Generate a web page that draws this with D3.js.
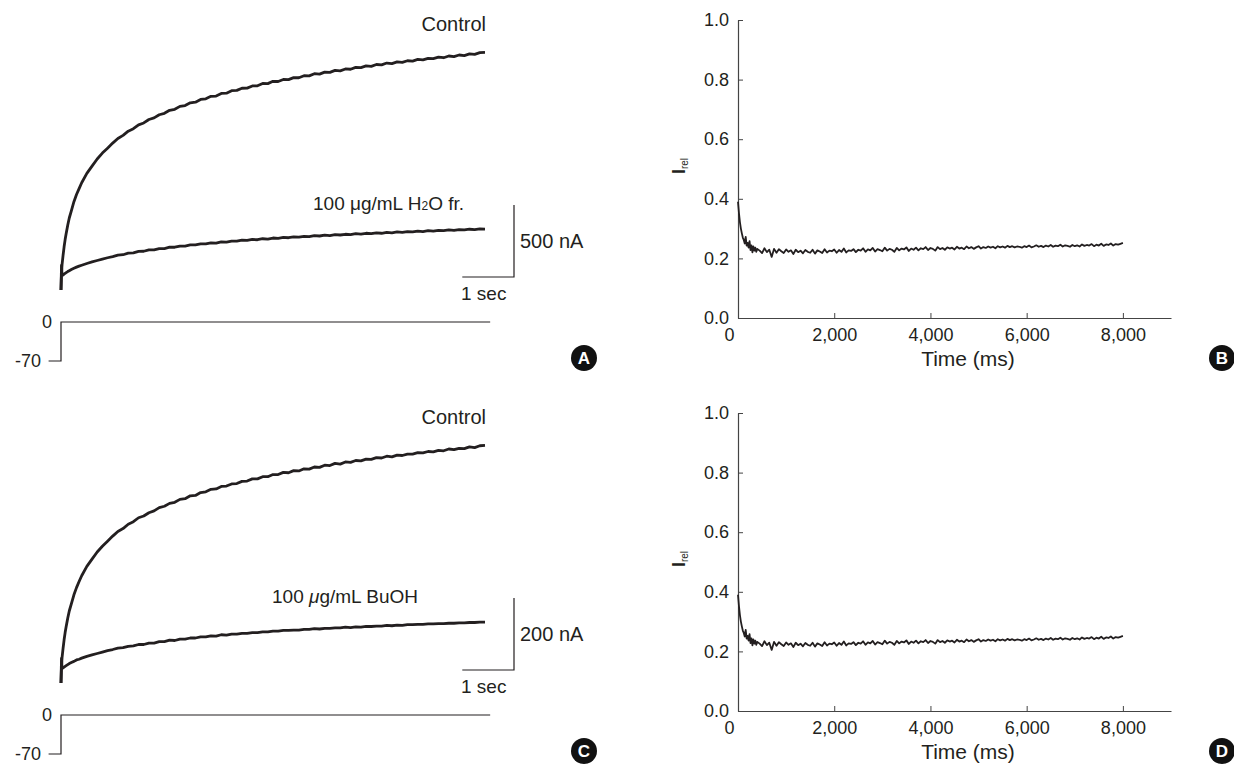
<!DOCTYPE html>
<html>
<head>
<meta charset="utf-8">
<script src="https://cdn.jsdelivr.net/npm/d3@7"></script>
<style>
  body { margin: 0; background: #fff; }
  svg { display: block; font-family: "Liberation Sans", Arial, Helvetica, sans-serif; }
</style>
</head>
<body>
<svg id="chart" width="1234" height="770"></svg>
<script>
// ─── Data ─────────────────────────────────────────────────────────────────────
// Oocyte current traces (A, C): sample times in seconds
const traceTimesEarly = [0, 0.01, 0.02, 0.04, 0.06, 0.08, 0.1, 0.13, 0.16, 0.2, 0.25, 0.3, 0.35, 0.4, 0.5, 0.6, 0.7, 0.8, 0.9, 1.0];
const traceTimes = traceTimesEarly.concat(d3.range(11, 83).map(d => d / 10)); // 1.1 … 8.2 s every 0.1 s

// Panel A, nA
const controlA = [0, 120, 175, 240, 300, 350, 392, 450, 500, 550, 613, 663, 704, 745, 810, 860, 910, 951, 985, 1020,
  1052, 1074, 1103, 1120, 1147, 1160, 1184, 1195, 1217, 1227,
  1248, 1255, 1275, 1281, 1300, 1304, 1323, 1328, 1345, 1347,
  1365, 1367, 1384, 1386, 1401, 1402, 1417, 1418, 1434, 1433,
  1449, 1448, 1462, 1461, 1475, 1474, 1488, 1487, 1502, 1499,
  1513, 1511, 1525, 1522, 1535, 1533, 1546, 1544, 1556, 1553,
  1566, 1563, 1576, 1572, 1584, 1581, 1592, 1590, 1601, 1598,
  1609, 1607, 1617, 1613, 1625, 1621, 1632, 1628, 1640, 1636, 1648, 1650];
const h2oA = [0, 170, 100, 104, 110, 116, 121, 128, 134, 142, 151, 159, 166, 172, 184, 195, 205, 215, 224, 232,
  242, 245, 256, 258, 268, 269, 278, 279, 288, 288,
  297, 297, 305, 305, 313, 313, 320, 320, 327, 326,
  334, 333, 340, 339, 346, 344, 351, 349, 356, 354,
  361, 359, 365, 363, 369, 367, 373, 371, 377, 375,
  381, 378, 384, 382, 387, 385, 391, 388, 394, 391,
  397, 394, 400, 397, 403, 400, 406, 403, 409, 406,
  412, 409, 414, 412, 417, 414, 419, 417, 422, 419, 424, 423];

// Panel C, nA
const controlC = [0, 48, 70, 96, 120, 140, 157, 180, 200, 220, 245, 265, 282, 298, 324, 344, 364, 380, 394, 408,
  421, 429, 441, 448, 459, 464, 473, 478, 487, 491,
  499, 502, 510, 512, 520, 521, 529, 531, 538, 539,
  546, 547, 553, 554, 560, 561, 567, 567, 573, 573,
  579, 579, 585, 584, 590, 589, 595, 594, 600, 599,
  605, 604, 610, 608, 614, 613, 618, 617, 622, 621,
  626, 625, 630, 628, 633, 632, 636, 636, 640, 639,
  643, 642, 646, 645, 650, 648, 652, 651, 656, 654, 659, 660];
const buohC = [0, 68, 40, 42, 44, 46, 48, 51, 54, 57, 60, 64, 66, 69, 74, 78, 82, 86, 90, 93,
  97, 98, 102, 103, 107, 107, 111, 111, 115, 115,
  119, 118, 122, 122, 125, 125, 128, 128, 131, 130,
  134, 133, 136, 136, 138, 138, 140, 140, 142, 142,
  144, 144, 146, 146, 147, 147, 149, 149, 151, 150,
  152, 152, 153, 153, 155, 154, 156, 155, 157, 157,
  158, 158, 160, 159, 161, 160, 162, 162, 163, 163,
  164, 164, 165, 165, 166, 166, 167, 167, 168, 168, 169, 169];

// Voltage protocol (mV) under A and C
const protocolTimes = [-0.24, 0, 0, 8.3];
const protocolMv = [-70, -70, 0, 0];

// Relative current traces (B, D): time in ms
const relTimesEarly = [0, 20, 40, 60, 80, 100, 120, 140, 160, 180, 200, 220, 240, 260, 280, 300, 320, 340, 360, 380, 400];
const relTimes = relTimesEarly.concat(d3.range(450, 8001, 50)); // then every 50 ms
const relCurrent = [0.390, 0.352, 0.322, 0.300, 0.284, 0.270, 0.262, 0.250, 0.272, 0.243, 0.252, 0.236, 0.258, 0.228, 0.244, 0.220, 0.240, 0.226, 0.236, 0.222, 0.232,
  0.226, 0.218, 0.234, 0.221, 0.229, 0.205, 0.232, 0.219, 0.231, 0.224,
  0.218, 0.230, 0.222, 0.227, 0.215, 0.229, 0.221, 0.226, 0.217, 0.228,
  0.222, 0.219, 0.229, 0.216, 0.227, 0.223, 0.218, 0.231, 0.220, 0.226,
  0.224, 0.230, 0.219, 0.228, 0.222, 0.233, 0.220, 0.227, 0.225, 0.231,
  0.221, 0.229, 0.226, 0.234, 0.222, 0.230, 0.227, 0.235, 0.223, 0.231,
  0.228, 0.224, 0.236, 0.226, 0.232, 0.229, 0.222, 0.235, 0.227, 0.233,
  0.230, 0.237, 0.225, 0.233, 0.229, 0.236, 0.227, 0.234, 0.231, 0.238,
  0.228, 0.235, 0.232, 0.226, 0.238, 0.231, 0.235, 0.229, 0.237, 0.233,
  0.236, 0.230, 0.239, 0.233, 0.236, 0.231, 0.240, 0.234, 0.238, 0.232,
  0.237, 0.241, 0.233, 0.238, 0.235, 0.240, 0.236, 0.239, 0.234, 0.241,
  0.237, 0.240, 0.236, 0.242, 0.238, 0.241, 0.237, 0.240, 0.239, 0.236,
  0.241, 0.238, 0.243, 0.237, 0.240, 0.244, 0.239, 0.242, 0.238, 0.243,
  0.240, 0.245, 0.239, 0.243, 0.241, 0.246, 0.240, 0.244, 0.242, 0.239,
  0.245, 0.241, 0.244, 0.240, 0.247, 0.242, 0.245, 0.243, 0.248, 0.241,
  0.246, 0.243, 0.249, 0.242, 0.247, 0.245, 0.250, 0.243, 0.248, 0.246,
  0.249, 0.252];

const relTicksY = [0, 0.2, 0.4, 0.6, 0.8, 1.0];
const relTicksX = [0, 2000, 4000, 6000, 8000];

const INK = '#231f20';
const svg = d3.select('#chart');

// ─── Letter badge ─────────────────────────────────────────────────────────────
function badge(cx, cy, letter) {
  svg.append('circle').attr('cx', cx).attr('cy', cy).attr('r', 13).attr('fill', '#111');
  svg.append('text').attr('x', cx).attr('y', cy + 6).attr('text-anchor', 'middle')
    .attr('font-size', 17).attr('font-weight', 700).attr('fill', '#fff').text(letter);
}

// ─── Current trace panel (A / C) ──────────────────────────────────────────────
function tracePanel({ oy, control, treated, nAmax, barNa, treatedLabel, italicMu, letter }) {
  const g = svg.append('g').attr('transform', `translate(0,${oy})`);
  const x = d3.scaleLinear().domain([0, 8.2]).range([61, 485]);
  const pxPerNa = 72 / barNa;
  const y = d3.scaleLinear().domain([0, nAmax]).range([290, 290 - nAmax * pxPerNa]);
  const line = d3.line().x((d, i) => x(traceTimes[i])).y(d => y(d));

  [treated, control].forEach(series => {
    g.append('path').datum(series).attr('d', line)
      .attr('fill', 'none').attr('stroke', INK).attr('stroke-width', 2.8).attr('stroke-linejoin', 'round');
  });

  g.append('text').attr('x', 486).attr('y', 31).attr('text-anchor', 'end')
    .attr('font-size', 20).attr('fill', INK).text('Control');

  const lbl = g.append('text').attr('x', treatedLabel.x).attr('y', 210)
    .attr('font-size', 19).attr('fill', INK);
  lbl.append('tspan').text('100 ');
  lbl.append('tspan').attr('font-style', italicMu ? 'italic' : 'normal').text('μ');
  treatedLabel.parts.forEach(p => {
    if (p.sub) lbl.append('tspan').attr('font-size', 12).text(p.sub);
    else lbl.append('tspan').text(p.t);
  });

  // scale bar
  const bx = 514, by = 277;
  const vLen = y(0) - y(barNa), hLen = x(1) - x(0);
  g.append('path').attr('d', `M${bx - hLen},${by}H${bx}V${by - vLen}`)
    .attr('fill', 'none').attr('stroke', INK).attr('stroke-width', 1.2);
  g.append('text').attr('x', 520).attr('y', 248).attr('font-size', 20).attr('fill', INK).text(`${barNa} nA`);
  g.append('text').attr('x', 461).attr('y', 300).attr('font-size', 19).attr('fill', INK).text('1 sec');

  // voltage protocol
  const v = d3.scaleLinear().domain([-70, 0]).range([361, 322]);
  g.append('path').datum(protocolMv)
    .attr('d', d3.line().x((d, i) => x(protocolTimes[i])).y(d => v(d)))
    .attr('fill', 'none').attr('stroke', INK).attr('stroke-width', 1.2);
  g.append('text').attr('x', 52).attr('y', v(0) + 6).attr('text-anchor', 'end')
    .attr('font-size', 18).attr('fill', INK).text('0');
  g.append('text').attr('x', 41).attr('y', v(-70) + 6).attr('text-anchor', 'end')
    .attr('font-size', 18).attr('fill', INK).text('-70');

  badge(584, 358 + oy, letter);
}

// ─── Relative current panel (B / D) ───────────────────────────────────────────
function relPanel({ oy, letter }) {
  const g = svg.append('g').attr('transform', `translate(0,${oy})`);
  const x = d3.scaleLinear().domain([0, 9000]).range([738, 1171]);
  const y = d3.scaleLinear().domain([0, 1]).range([318, 20]);

  const ax = g.append('g').attr('transform', `translate(0,${y(0)})`)
    .call(d3.axisBottom(x).tickValues(relTicksX).tickSizeInner(-5).tickSizeOuter(0).tickPadding(10)
      .tickFormat(d3.format(',')));
  const ay = g.append('g').attr('transform', `translate(${x(0)},0)`)
    .call(d3.axisLeft(y).tickValues(relTicksY).tickSizeInner(-5).tickSizeOuter(0).tickPadding(9)
      .tickFormat(d3.format('.1f')));
  [ax, ay].forEach(a => {
    a.select('.domain').attr('stroke', '#444').attr('stroke-width', 1.2);
    a.selectAll('.tick line').attr('stroke', '#444');
    a.selectAll('.tick text').attr('font-size', 18).attr('fill', INK)
      .attr('font-family', '"Liberation Sans", Arial, sans-serif');
  });
  ax.selectAll('.tick').filter(d => d === 0).select('line').remove();
  ax.selectAll('.tick').filter(d => d === 0).select('text').attr('x', -9);

  g.append('path').datum(relCurrent)
    .attr('d', d3.line().x((d, i) => x(relTimes[i])).y(d => y(d)))
    .attr('fill', 'none').attr('stroke', INK).attr('stroke-width', 1.8).attr('stroke-linejoin', 'round');

  g.append('text').attr('x', 968).attr('y', 366).attr('text-anchor', 'middle')
    .attr('font-size', 21).attr('fill', INK).text('Time (ms)');

  const yl = g.append('text').attr('transform', 'translate(685,166) rotate(-90)')
    .attr('text-anchor', 'middle').attr('fill', INK);
  yl.append('tspan').attr('font-size', 18).attr('font-weight', 700).text('I');
  yl.append('tspan').attr('font-size', 10).attr('dy', 3).text('rel');

  badge(1222, 358 + oy, letter);
}

tracePanel({
  oy: 0, control: controlA, treated: h2oA, nAmax: 1650, barNa: 500, letter: 'A', italicMu: false,
  treatedLabel: { x: 313, parts: [{ t: 'g/mL H' }, { sub: '2' }, { t: 'O fr.' }] }
});
tracePanel({
  oy: 393, control: controlC, treated: buohC, nAmax: 660, barNa: 200, letter: 'C', italicMu: true,
  treatedLabel: { x: 272, parts: [{ t: 'g/mL BuOH' }] }
});
relPanel({ oy: 0, letter: 'B' });
relPanel({ oy: 393, letter: 'D' });
</script>
</body>
</html>
